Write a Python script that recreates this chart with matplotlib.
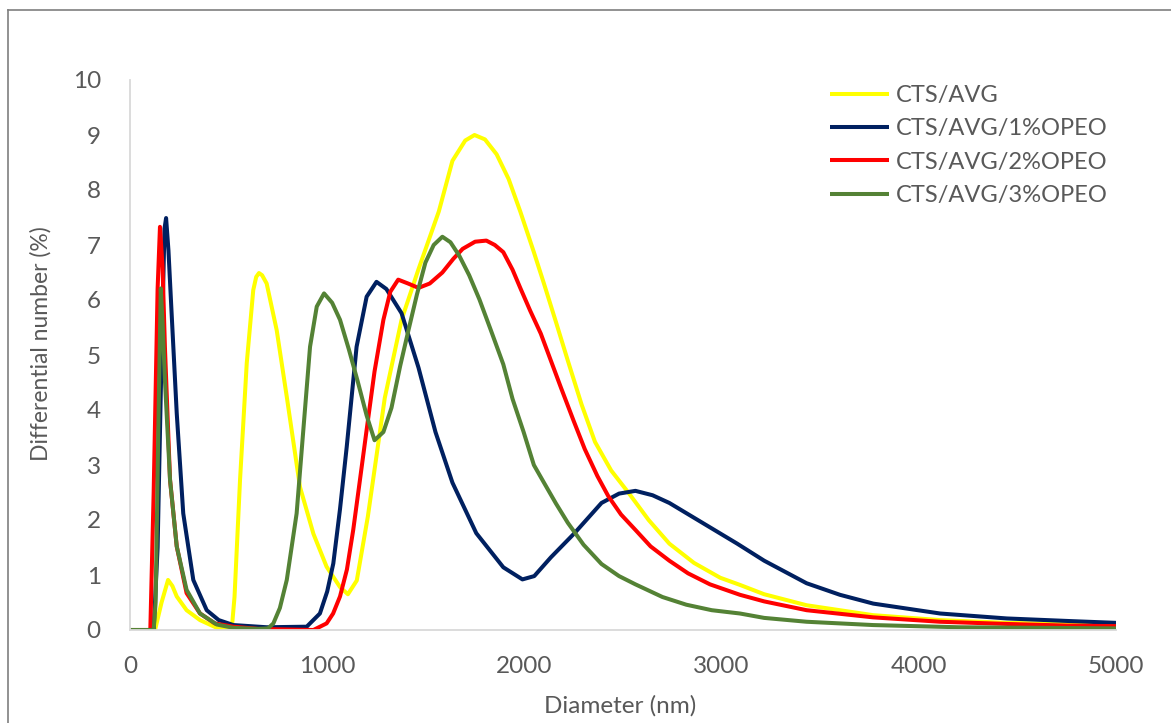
"""
Particle size distribution (differential number) for CTS/AVG films with OPEO.
"""
import matplotlib
matplotlib.use('Agg')
import matplotlib.pyplot as plt
from matplotlib.lines import Line2D

# --- data ---
labels = ['CTS/AVG', 'CTS/AVG/1%OPEO', 'CTS/AVG/2%OPEO', 'CTS/AVG/3%OPEO']
colors = ['#FFFF00', '#002060', '#FF0000', '#548235']

x_avg = [0, 120, 127, 160, 193, 215, 237, 287, 355, 440, 516, 530, 558, 592, 625,
         640, 654, 670, 693, 744, 795, 862, 930, 997, 1065, 1105, 1150, 1206, 1292,
         1377, 1463, 1566, 1635, 1700, 1747, 1800, 1859, 1920, 1979, 2048, 2099,
         2160, 2220, 2290, 2358, 2440, 2529, 2630, 2735, 2860, 2993, 3093, 3216,
         3431, 3768, 4108, 4446, 4750, 5000]
y_avg = [0, 0, 0, 0.5, 0.91, 0.8, 0.61, 0.36, 0.18, 0.04, 0.02, 0.6, 2.73, 4.85, 6.18,
         6.42, 6.49, 6.45, 6.30, 5.45, 4.24, 2.6, 1.75, 1.15, 0.78, 0.65, 0.9, 2.06, 4.22,
         5.64, 6.56, 7.61, 8.53, 8.9, 9.0, 8.92, 8.65, 8.2, 7.61, 6.87, 6.3,
         5.6, 4.9, 4.1, 3.42, 2.9, 2.49, 2.0, 1.57, 1.22, 0.95, 0.82, 0.65,
         0.45, 0.27, 0.18, 0.13, 0.11, 0.09]

x_1 = [0, 120, 140, 160, 175, 183, 195, 211, 237, 270, 321, 389, 450, 524, 693, 896,
       963, 1000, 1031, 1065, 1099, 1149, 1200, 1250, 1300, 1377, 1463, 1549, 1635,
       1756, 1893, 1990, 2050, 2134, 2254, 2391, 2480, 2563, 2650, 2735, 2907, 3079,
       3216, 3431, 3600, 3769, 4108, 4446, 4783, 5000]
y_1 = [0, 0, 1.5, 5.0, 7.3, 7.49, 6.9, 5.76, 3.94, 2.12, 0.91, 0.36, 0.18, 0.09, 0.05, 0.06,
       0.30, 0.7, 1.21, 2.2, 3.33, 5.15, 6.06, 6.33, 6.2, 5.76, 4.77, 3.60, 2.68,
       1.76, 1.14, 0.92, 0.98, 1.32, 1.76, 2.31, 2.48, 2.53, 2.45, 2.31, 1.94, 1.57,
       1.26, 0.85, 0.64, 0.48, 0.30, 0.21, 0.16, 0.13]

x_2 = [0, 103, 120, 140, 152, 165, 177, 203, 237, 287, 355, 430, 524, 650, 930, 997,
       1030, 1065, 1100, 1132, 1165, 1200, 1240, 1285, 1320, 1360, 1410, 1463, 1520,
       1584, 1640, 1687, 1750, 1807, 1850, 1893, 1940, 1979, 2030, 2083, 2134, 2186,
       2250, 2306, 2370, 2426, 2490, 2563, 2640, 2735, 2830, 2941, 3093, 3216, 3431,
       3768, 4108, 4446, 4750, 5000]
y_2 = [0, 0, 2.5, 6.2, 7.33, 6.6, 5.15, 2.73, 1.52, 0.67, 0.30, 0.12, 0.06, 0.02, 0, 0.12,
       0.3, 0.61, 1.1, 1.82, 2.7, 3.64, 4.7, 5.64, 6.15, 6.37, 6.3, 6.22, 6.3,
       6.50, 6.75, 6.93, 7.06, 7.08, 7.0, 6.87, 6.55, 6.22, 5.8, 5.39, 4.9, 4.40,
       3.8, 3.29, 2.8, 2.43, 2.1, 1.82, 1.52, 1.26, 1.03, 0.83, 0.64, 0.52, 0.36,
       0.23, 0.15, 0.11, 0.08, 0.07]

x_3 = [0, 120, 130, 143, 156, 165, 177, 203, 237, 287, 355, 440, 524, 650, 700, 727,
       760, 795, 845, 879, 913, 947, 984, 1025, 1065, 1110, 1154, 1200, 1240, 1285,
       1326, 1370, 1412, 1455, 1498, 1540, 1584, 1625, 1669, 1720, 1772, 1830, 1893,
       1940, 1996, 2048, 2099, 2160, 2220, 2300, 2391, 2480, 2563, 2700, 2821, 2950,
       3093, 3216, 3431, 3768, 4200, 4600, 5000]
y_3 = [0, 0, 0.5, 3.5, 6.21, 5.6, 4.55, 2.73, 1.52, 0.73, 0.30, 0.10, 0.04, 0.02, 0.03, 0.12,
       0.4, 0.91, 2.12, 3.64, 5.15, 5.88, 6.12, 5.95, 5.64, 5.1, 4.53, 3.9, 3.45, 3.6,
       4.04, 4.8, 5.45, 6.1, 6.68, 7.0, 7.15, 7.05, 6.81, 6.45, 6.01, 5.45, 4.83,
       4.2, 3.60, 3.0, 2.68, 2.3, 1.95, 1.55, 1.2, 0.98, 0.83, 0.6, 0.46, 0.36,
       0.30, 0.22, 0.15, 0.09, 0.05, 0.04, 0.03]

series_x = [x_avg, x_1, x_2, x_3]
series_y = [y_avg, y_1, y_2, y_3]

plt.rcParams['font.family'] = ['Lato', 'DejaVu Sans']
text_gray = '#595959'
axis_gray = '#d9d9d9'

fig = plt.figure(figsize=(11.71, 7.23), dpi=100)
ax = fig.add_axes([130 / 1171, 1 - 630 / 723, (1116 - 130) / 1171, (630 - 80) / 723])

for xs, ys, c, lab in zip(series_x, series_y, colors, labels):
    ax.plot(xs, ys, color=c, lw=2.9, label=lab, solid_joinstyle='round',
            solid_capstyle='butt')

ax.set_xlim(0, 5000)
ax.set_ylim(0, 10)
ax.set_xticks(range(0, 5001, 1000))
ax.set_yticks(range(0, 11))
ax.tick_params(length=0, labelsize=17.5, labelcolor=text_gray)
ax.tick_params(axis='x', pad=19)
ax.tick_params(axis='y', pad=21)

for side in ['top', 'right']:
    ax.spines[side].set_visible(False)
for side in ['left', 'bottom']:
    ax.spines[side].set_color(axis_gray)
    ax.spines[side].set_linewidth(1.3)

ax.set_xlabel('Diameter (nm)', fontsize=17.5, color=text_gray)
ax.xaxis.set_label_coords(0.497, -0.118)
ax.set_ylabel('Differential number (%)', fontsize=16.5, color=text_gray)
ax.yaxis.set_label_coords(-0.08, 0.52)

leg = ax.legend(loc='upper left', bbox_to_anchor=(830 / 1171, 1 - 85 / 723),
                bbox_transform=fig.transFigure, frameon=False, fontsize=17,
                handlelength=2.5, handletextpad=0.3, labelspacing=0.52,
                borderpad=0, borderaxespad=0)
for t in leg.get_texts():
    t.set_color(text_gray)

# thin frame around the chart area (left and top edges visible)
fig.add_artist(Line2D([8 / 1171, 8 / 1171], [0, 1 - 10 / 723], color='#7f7f7f',
                      lw=1.2, transform=fig.transFigure))
fig.add_artist(Line2D([8 / 1171, 1], [1 - 10 / 723, 1 - 10 / 723], color='#7f7f7f',
                      lw=1.2, transform=fig.transFigure))

fig.savefig('out.png', dpi=100)
